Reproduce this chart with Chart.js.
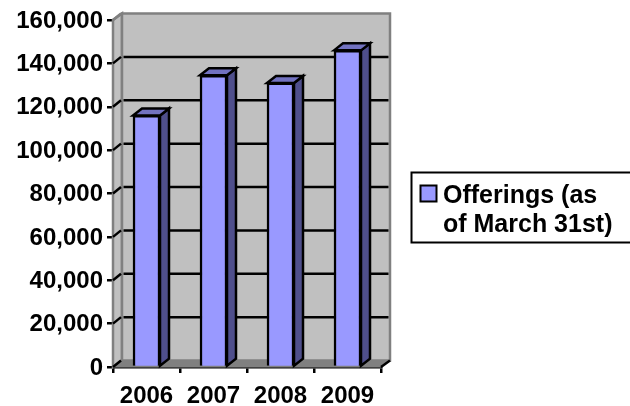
<!DOCTYPE html>
<html>
<head>
<meta charset="utf-8">
<style>html,body{margin:0;padding:0;background:#fff}canvas{display:block}</style>
<script src="https://cdn.jsdelivr.net/npm/chart.js@4/dist/chart.umd.min.js"></script>
</head>
<body>
<canvas id="c" width="630" height="406"></canvas>
<script>
const categories = ['2006', '2007', '2008', '2009'];
const offerings = [116000, 134500, 131000, 146000];
const seriesLabel = ['Offerings (as', 'of March 31st)'];

const FONT = '"Liberation Sans", Arial, sans-serif';
const FACE = '#9999ff', SIDE = '#4f4f8c', TOP = '#7272c0', WALL = '#c0c0c0', EDGE = '#808080';
const DX = 9, DY = 6.5;

function poly(ctx, pts, fill, stroke, lw) {
  ctx.beginPath();
  pts.forEach((p, i) => i ? ctx.lineTo(p[0], p[1]) : ctx.moveTo(p[0], p[1]));
  ctx.closePath();
  if (fill) { ctx.fillStyle = fill; ctx.fill(); }
  if (stroke) { ctx.strokeStyle = stroke; ctx.lineWidth = lw; ctx.lineJoin = 'miter'; ctx.stroke(); }
}

const depth3d = {
  id: 'depth3d',
  beforeLayout(chart) {
    const l = chart.legend;
    if (l && !l._patched) {
      const f = l.fit;
      l.fit = function () { f.call(this); this.width = 249; };
      l._patched = true;
    }
  },
  beforeDatasetsDraw(chart) {
    const { ctx, chartArea: a, scales: { y } } = chart;
    const L = a.left, R = a.right, T = a.top, B = a.bottom;
    ctx.save();
    poly(ctx, [[L, B], [L + DX, B - DY], [L + DX, T - DY], [L, T]], WALL, EDGE, 2.5);
    poly(ctx, [[L + DX, T - DY], [R + DX, T - DY], [R + DX, B - DY], [L + DX, B - DY]], WALL, EDGE, 2.5);
    poly(ctx, [[L, B], [L + DX, B - DY], [R + DX, B - DY], [R, B]], EDGE, EDGE, 1);
    ctx.lineWidth = 2.5;
    y.ticks.forEach(t => {
      const p = y.getPixelForValue(t.value);
      ctx.strokeStyle = t.value === y.max ? EDGE : '#000';
      ctx.beginPath();
      ctx.moveTo(L, p);
      ctx.lineTo(L + DX - 1, p - DY);
      ctx.stroke();
      if (t.value !== y.max && t.value !== y.min) {
        ctx.beginPath();
        ctx.moveTo(L + DX + 1.5, p - DY);
        ctx.lineTo(R + DX - 1.5, p - DY);
        ctx.stroke();
      }
    });
    ctx.strokeStyle = '#000';
    ctx.beginPath();
    ctx.moveTo(R, B);
    ctx.lineTo(R + DX, B - DY);
    ctx.stroke();
    chart.getDatasetMeta(0).data.forEach(b => {
      const l = b.x - b.width / 2, r = b.x + b.width / 2;
      poly(ctx, [[r, b.base], [r + DX, b.base - DY - 0.5], [r + DX, b.y - DY - 0.5], [r, b.y]], SIDE, '#000', 2.5);
      poly(ctx, [[l, b.y], [l + DX, b.y - DY - 0.5], [r + DX, b.y - DY - 0.5], [r, b.y]], TOP, '#000', 2.5);
    });
    ctx.restore();
  },
  afterDraw(chart) {
    const ctx = chart.ctx;
    ctx.save();
    ctx.strokeStyle = '#000';
    ctx.lineWidth = 2;
    ctx.strokeRect(411.5, 172.5, 222, 70);
    ctx.fillStyle = FACE;
    ctx.fillRect(420.5, 185.5, 16, 16);
    ctx.strokeRect(420.5, 185.5, 16, 16);
    ctx.restore();
  }
};

new Chart(document.getElementById('c'), {
  type: 'bar',
  data: {
    labels: categories,
    datasets: [{
      label: seriesLabel.join(' '),
      data: offerings,
      backgroundColor: FACE,
      borderColor: '#000',
      borderWidth: 2.5,
      barThickness: 27
    }]
  },
  plugins: [depth3d],
  options: {
    responsive: false,
    animation: false,
    devicePixelRatio: 1,
    layout: { padding: { top: 20, left: 0, right: 0, bottom: 0 } },
    plugins: {
      title: { display: false },
      tooltip: { enabled: false },
      legend: {
        display: true,
        position: 'right',
        align: 'center',
        labels: {
          color: '#000',
          font: { family: FONT, size: 25, weight: 'bold', lineHeight: 1.16 },
          boxWidth: 7,
          boxHeight: 17,
          padding: 42.5,
          generateLabels: () => [{
            text: seriesLabel,
            fillStyle: 'rgba(0,0,0,0)',
            strokeStyle: 'rgba(0,0,0,0)',
            lineWidth: 0,
            datasetIndex: 0
          }]
        }
      }
    },
    scales: {
      x: {
        afterFit(s) { s.height = 39; },
        offset: true,
        grid: { offset: true, drawOnChartArea: false, drawTicks: true, tickLength: 6, color: '#000', lineWidth: 2.5 },
        border: { display: true, color: '#000', width: 2.5 },
        ticks: { color: '#000', padding: 9, maxRotation: 0, font: { family: FONT, size: 24, weight: 'bold' } }
      },
      y: {
        afterFit(s) { s.width = 113; },
        min: 0,
        max: 160000,
        grid: { drawOnChartArea: false, drawTicks: true, tickLength: 6, color: '#000', lineWidth: 2.5 },
        border: { display: true, color: '#000', width: 2.5 },
        ticks: {
          stepSize: 20000,
          color: '#000',
          padding: 4,
          labelOffset: 1,
          font: { family: FONT, size: 24, weight: 'bold' },
          callback: v => v.toLocaleString('en-US')
        }
      }
    }
  }
});
</script>
</body>
</html>
